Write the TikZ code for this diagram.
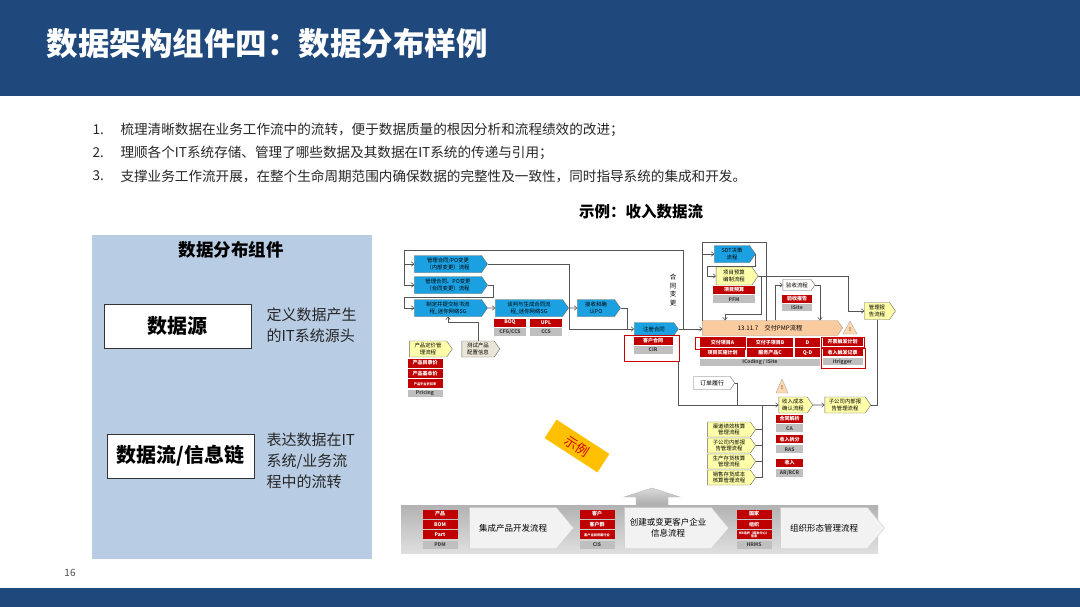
\documentclass[tikz,border=0pt]{standalone}
\usepackage{fontspec}
\setmainfont{Noto Sans CJK SC}
\usetikzlibrary{positioning, arrows.meta, shapes.symbols, calc}

\definecolor{banner}{RGB}{31,73,125}
\definecolor{panelblue}{RGB}{184,204,228}
\definecolor{procblue}{RGB}{27,161,226}
\definecolor{procyel}{RGB}{255,255,170}
\definecolor{procgray}{RGB}{234,229,214}
\definecolor{cellred}{RGB}{192,0,0}
\definecolor{cellgray}{RGB}{191,191,191}
\definecolor{pmpfill}{RGB}{251,203,160}
\definecolor{stampyel}{RGB}{255,192,0}
\definecolor{linegray}{RGB}{85,85,85}

\newcommand\flowfont{\fontsize{5.4}{6.3}\selectfont}
\newcommand\cellfont{\fontsize{5}{6}\selectfont\bfseries}
\newcommand\tinycell{\fontsize{3.2}{3.6}\selectfont\bfseries}

\begin{document}
\begin{tikzpicture}[
        x=1pt, y=-1pt,
        >={Straight Barb[length=2.5pt,width=4.5pt]},
        proc/.style={
            signal,
            signal to=east,
            signal pointer angle=110,
            draw=black!60,
            fill=procblue,
            font=\flowfont,
            align=center,
            inner sep=0.5pt,
            minimum width=73pt,
            minimum height=17pt
        },
        yproc/.style={proc, fill=procyel},
        gproc/.style={proc, fill=procgray},
        bproc/.style={
            signal,
            signal to=east,
            signal pointer angle=100,
            draw=gray!40,
            fill=gray!10,
            font=\fontsize{8.5}{11}\selectfont,
            align=center,
            minimum width=104pt,
            minimum height=41pt
        },
        cellr/.style={
            fill=cellred,
            text=white,
            font=\cellfont,
            inner sep=0pt,
            minimum height=8pt
        },
        cellg/.style={
            fill=cellgray,
            text=black!75,
            font=\cellfont,
            inner sep=0pt,
            minimum height=8pt
        },
        redframe/.style={
            draw=red!80!black,
            line width=0.9pt,
            inner sep=0pt
        },
        compbox/.style={
            draw=black!80,
            fill=white,
            minimum width=147pt,
            minimum height=44pt,
            font=\fontsize{20}{24}\selectfont\bfseries
        },
        desc/.style={
            anchor=north west,
            align=left,
            text=black!85,
            font=\fontsize{15}{21}\selectfont
        },
        listtxt/.style={
            anchor=west,
            text=black!85,
            font=\fontsize{13.6}{16}\selectfont
        },
        ln/.style={draw=linegray, line width=0.6pt},
        arr/.style={->, draw=linegray, line width=0.6pt}
    ]

    \useasboundingbox (0,0) rectangle (1080,607);

    % header and footer
    \fill[banner] (0,0) rectangle (1080,96);
    \node[anchor=west, text=white, font=\fontsize{31.5}{34}\selectfont\bfseries] (title) at (43,44) {数据架构组件四：数据分布样例};
    \fill[banner] (0,588) rectangle (1080,607);
    \node[text=black!70, font=\fontsize{10}{12}\selectfont] (pageno) at (70,573) {16};

    \node[listtxt] (num1) at (89,130) {1.};
    \node[listtxt] (item1) at (117,130) {梳理清晰数据在业务工作流中的流转，便于数据质量的根因分析和流程绩效的改进；};
    \node[listtxt] (num2) at (89,153) {2.};
    \node[listtxt] (item2) at (117,153) {理顺各个IT系统存储、管理了哪些数据及其数据在IT系统的传递与引用；};
    \node[listtxt] (num3) at (89,176) {3.};
    \node[listtxt] (item3) at (117,176) {支撑业务工作流开展，在整个生命周期范围内确保数据的完整性及一致性，同时指导系统的集成和开发。};

    \node[font=\fontsize{15.5}{18}\selectfont\bfseries] (caption) at (641,212) {示例：收入数据流};

    % left panel
    \node[fill=panelblue, minimum width=280pt, minimum height=324pt, inner sep=0pt] (panel) at (232,397) {};
    \node[font=\fontsize{17.5}{20}\selectfont\bfseries] (paneltitle) at (231,250) {数据分布组件};
    \node[compbox] (src) at (177.5,326) {数据源};
    \node[desc] (srcdesc) at (263,304) {定义数据产生\\的IT系统源头};
    \node[compbox] (chain) at (180.5,456) {数据流/信息链};
    \node[desc] (chaindesc) at (263,429) {表达数据在IT\\系统/业务流\\程中的流转};

    % contract side
    \node[proc] (chgint) at (448,264) {管理合同/PO变更\\（内部变更）流程};
    \node[proc] (chgctr) at (448,285) {管理合同、PO变更\\（合同变更）流程};
    \node[proc] (bidsg) at (448,308) {制定并提交标书流\\程\_迷你网络SG};
    \node[proc] (negsg) at (529,308) {谈判与生成合同流\\程\_迷你网络SG};
    \node[proc, minimum width=43pt] (recvpo) at (596,308) {接收和确\\认PO};
    \node[cellr, minimum width=32pt] (boq) at (510,322.5) {BOQ};
    \node[cellr, minimum width=32pt] (upl) at (546,322.5) {UPL};
    \node[cellg, minimum width=32pt, below=1pt of boq] (cfgccs) {CFG/CCS};
    \node[cellg, minimum width=32pt, below=1pt of upl] (ccs) {CCS};

    \node[yproc, minimum width=43pt, minimum height=16pt] (price) at (428,349) {产品定价管\\理流程};
    \node[gproc, minimum width=38pt, minimum height=16pt] (testcfg) at (478,349) {测试产品\\配置信息};
    \node[cellr, minimum width=35pt, minimum height=9pt] (listprice) at (425,363) {产品目录价};
    \node[cellr, minimum width=35pt, minimum height=9pt, below=1pt of listprice] (baseprice) {产品基本价};
    \node[cellr, minimum width=35pt, minimum height=9pt, font=\tinycell, below=1pt of baseprice] (discount) {产品平台折扣率};
    \node[cellg, minimum width=35pt, minimum height=7pt, below=1pt of discount] (pricesys) {Pricing};

    \node[proc, minimum width=44pt, minimum height=13pt] (regctr) at (654,329) {注册合同};
    \node[cellr, minimum width=39pt] (custctr) at (653,341) {客户合同};
    \node[cellg, minimum width=39pt, below=0.5pt of custctr] (cir) {CIR};
    \node[redframe, minimum width=55pt, minimum height=26pt] (regframe) at (651.5,348) {};
    \node[font=\fontsize{6.5}{8.5}\selectfont, align=center] (ctrchg) at (673,290) {合\\同\\变\\更};

    % delivery side
    \node[proc, minimum width=41pt] (sdt) at (732,254) {SDT决策\\流程};
    \node[yproc, minimum width=42pt, minimum height=18pt] (budget) at (734,276) {项目预算\\编制流程};
    \node[cellr, minimum width=42pt] (budgetcell) at (734,290) {项目预算};
    \node[cellg, minimum width=42pt, below=1pt of budgetcell] (pfm) {PFM};

    \node[gproc, fill=white!90!procgray, minimum width=32pt, minimum height=11pt] (accept) at (797,285) {验收流程};
    \node[cellr, minimum width=30pt] (acceptrep) at (797,299) {验收报告};
    \node[cellg, minimum width=30pt, minimum height=7pt, below=1pt of acceptrep] (isite) {ISite};

    \node[yproc, minimum width=31pt] (mgmtrep) at (877,311) {管理报\\告流程};

    \node[proc, fill=pmpfill, draw=orange!40!black!50, minimum width=140pt, minimum height=15pt, font=\fontsize{6.2}{7}\selectfont] (pmp) at (770,328) {13.11.7\quad 交付PMP流程};
    \node[cellr, minimum width=45pt, minimum height=9pt] (deliva) at (722.5,342.5) {交付项目A};
    \node[cellr, minimum width=46pt, minimum height=9pt] (delivb) at (770,342.5) {交付子项目B};
    \node[cellr, minimum width=25pt, minimum height=9pt] (delivd) at (807.5,342.5) {D};
    \node[cellr, minimum width=45pt, minimum height=9pt, below=1pt of deliva] (implplan) {项目实施计划};
    \node[cellr, minimum width=46pt, minimum height=9pt, below=1pt of delivb] (svcprod) {服务产品C};
    \node[cellr, minimum width=25pt, minimum height=9pt, below=1pt of delivd] (qd) {Q-D};
    \node[cellg, minimum width=120pt, minimum height=7pt] (icoding) at (760,362) {ICoding / ISite};
    \node[redframe, minimum width=50pt, minimum height=12pt] (pmpframe) at (720.5,343) {};

    \node[cellr, minimum width=40pt] (billplan) at (842.5,342) {开票触发计划};
    \node[cellr, minimum width=40pt, below=2pt of billplan] (revrec) {收入触发记录};
    \node[cellg, minimum width=40pt, minimum height=7pt, below=1.5pt of revrec] (itrigger) {itrigger};
    \node[redframe, minimum width=43pt, minimum height=10pt] (billframe) at (842.5,342) {};
    \node[redframe, minimum width=44pt, minimum height=20pt] (trigframe) at (843,358) {};

    % revenue side
    \node[gproc, fill=white, minimum width=41pt, minimum height=13pt, font=\fontsize{6}{7}\selectfont] (ordexec) at (712,383) {订单履行};
    \node[yproc, minimum width=34pt, minimum height=16pt] (revcost) at (793,405) {收入成本\\确认流程};
    \node[yproc, minimum width=46pt, minimum height=16pt] (subrep) at (845,405) {子公司内部报\\告管理流程};
    \node[cellr, minimum width=27pt] (ctrparse) at (789.5,418.5) {合同解析};
    \node[cellg, minimum width=27pt, below=1.5pt of ctrparse] (ca) {CA};
    \node[cellr, minimum width=27pt, below=2.5pt of ca] (revsplit) {收入拆分};
    \node[cellg, minimum width=27pt, below=1.5pt of revsplit] (ras) {RAS};
    \node[cellr, minimum width=27pt, below=5pt of ras] (revenue) {收入};
    \node[cellg, minimum width=27pt, below=1.5pt of revenue] (arrcr) {AR/RCR};

    \node[yproc, minimum width=48pt, minimum height=15pt] (chanacc) at (729,429.5) {渠道绩效核算\\管理流程};
    \node[yproc, minimum width=48pt, minimum height=15pt] (subacc) at (729,445.5) {子公司内部报\\告管理流程};
    \node[yproc, minimum width=48pt, minimum height=15pt] (prodinv) at (729,461.5) {生产存货核算\\管理流程};
    \node[yproc, minimum width=48pt, minimum height=15pt] (salesinv) at (729,477.5) {销售存货成本\\核算管理流程};

    % warnings
    \filldraw[fill=orange!30, draw=gray!70] (843,334) -- (850,321) -- (857,334) -- cycle;
    \node[font=\fontsize{5}{5}\selectfont\bfseries, text=orange!50!black] (warnpmp) at (850,330) {!};
    \filldraw[fill=orange!30, draw=gray!70] (776,393) -- (782,379) -- (788,393) -- cycle;
    \node[font=\fontsize{5}{5}\selectfont\bfseries, text=orange!50!black] (warnrev) at (782,388) {!};

    % connectors
    \coordinate (ctrjoin) at (683,329);
    \coordinate (topleft) at (404,250);
    \draw[ln] (ctrjoin) -- (ctrjoin |- topleft) -- (topleft) -- (topleft |- chgctr);
    \draw[arr] (topleft |- chgint) -- (chgint.west);
    \draw[arr] (topleft |- chgctr) -- (chgctr.west);
    \draw[arr] (chgctr.east) -- ++(6,0) |- (404,297) |- (bidsg.west);
    \draw[arr] (bidsg) -- (negsg);
    \draw[arr] (negsg) -- (recvpo);
    \draw[arr] (chgint.east) -| (569,329) -- (regctr.west);
    \draw[ln] (recvpo.east) -| (627,329);
    \draw[arr] (regctr.east) -- (regctr.east -| pmp.west);
    \draw[arr] (testcfg.north) -- ++(0,-19) -| (bidsg.south);

    \coordinate (frametl) at (702,242);
    \coordinate (framebr) at (766,321);
    \draw[ln] (frametl |- framebr) -- (frametl) -| (framebr);
    \draw[arr] (frametl |- sdt) -- (sdt.west);
    \draw[arr] (sdt.east) |- (707,266) |- (budget.west);
    \draw[arr] (budget.east) -- ++(3,0) |- (725,314) -- ([xshift=-45pt]pmp.north);
    \draw[arr] (budget.east) -| (848,311) -- (mgmtrep.west);
    \draw[arr] ([xshift=5pt]pmp.north) |- (accept.west);
    \draw[arr] (accept.east) -| ([xshift=50pt]pmp.north);
    \draw[ln] (mgmtrep.south) |- (subrep.east);

    \draw[arr] ([xshift=-1pt]regframe.south east) |- (revcost.west);
    \draw[ln] (ordexec.east) -| (737,405);
    \draw[arr] (revcost) -- (subrep);
    \coordinate (ybus) at (762,405);
    \draw[ln] (ybus) |- (salesinv.east);
    \draw[ln] (chanacc.east) -- (chanacc.east -| ybus);
    \draw[ln] (subacc.east) -- (subacc.east -| ybus);
    \draw[ln] (prodinv.east) -- (prodinv.east -| ybus);

    % example stamp
    \node[fill=stampyel, text=red!85!black, rotate=-33, minimum width=63pt, minimum height=22pt, font=\fontsize{13}{14}\selectfont] (stamp) at (577,446) {示例};

    % base processes
    \shade[top color=gray!30, bottom color=gray!65, draw=gray!55] (636,505) -- (636,497) -- (624,497) -- (652,488) -- (680,497) -- (668,497) -- (668,505) -- cycle;
    \shade[top color=gray!60, bottom color=gray!25] (401,505) rectangle (878,553);

    \node[bproc] (ipd) at (513,528) {集成产品开发流程};
    \node[bproc] (cisflow) at (668,528) {创建或变更客户企业\\信息流程};
    \node[bproc] (orgflow) at (824,528) {组织形态管理流程};

    \node[cellr, minimum width=35pt, minimum height=9pt] (prod) at (440,514) {产品};
    \node[cellr, minimum width=35pt, minimum height=9pt, below=1pt of prod] (bom) {BOM};
    \node[cellr, minimum width=35pt, minimum height=9pt, below=1pt of bom] (part) {Part};
    \node[cellg, minimum width=35pt, below=1pt of part] (pdm) {PDM};

    \node[cellr, minimum width=35pt, minimum height=9pt] (cust) at (597,514) {客户};
    \node[cellr, minimum width=35pt, minimum height=9pt, below=1pt of cust] (custgrp) {客户群};
    \node[cellr, minimum width=35pt, minimum height=9pt, font=\tinycell, below=1pt of custgrp] (custind) {客户当前所属行业};
    \node[cellg, minimum width=35pt, below=1pt of custind] (cis) {CIS};

    \node[cellr, minimum width=35pt, minimum height=9pt] (country) at (754,514) {国家};
    \node[cellr, minimum width=35pt, minimum height=9pt, below=1pt of country] (orgunit) {组织};
    \node[cellr, minimum width=35pt, minimum height=9pt, font=\tinycell, align=center, below=1pt of orgunit] (hrinfo) {HR组织（成本中心）\\信息};
    \node[cellg, minimum width=35pt, below=1pt of hrinfo] (hrms) {HRMS};

\end{tikzpicture}
\end{document}
